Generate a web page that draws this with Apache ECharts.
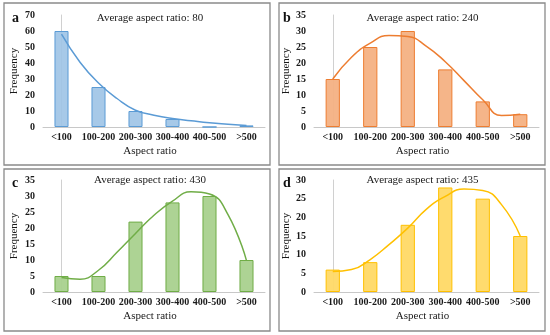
<!DOCTYPE html>
<html>
<head>
<meta charset="utf-8">
<script src="https://cdn.jsdelivr.net/npm/echarts@6/dist/echarts.min.js"></script>
<style>
html,body{margin:0;padding:0;background:#fff;}
#chart{width:550px;height:335px;}
</style>
</head>
<body>
<div id="chart"></div>
<script>
// ---- data ----
const categories = ['<100', '100-200', '200-300', '300-400', '400-500', '>500'];
const freqA = [60, 25, 10, 5, 0, 1];
const freqB = [15, 25, 30, 18, 8, 4];
const freqC = [5, 5, 22, 28, 30, 10];
const freqD = [6, 8, 18, 28, 25, 15];
// trend curves at half-category steps
const curveX = [0, 0.5, 1, 1.5, 2, 2.5, 3, 3.5, 4, 4.5, 5];
const trendA = [58, 40.5, 27.5, 17.8, 10.5, 7.4, 5.3, 3.9, 2.6, 1.7, 0.9];
const trendB = [15, 21.8, 26.2, 28.6, 28.3, 25.2, 20.4, 14.5, 8.5, 3.6, 4];
const trendC = [4.5, 4.0, 6.8, 12.4, 18.3, 24, 28.4, 31.3, 30.6, 24.2, 9.8];
const trendD = [5.5, 6, 8.7, 12.7, 17.1, 22.2, 25.6, 27.6, 27.2, 23.4, 15];
const yMax = [70, 35, 35, 30];
const yStep = [10, 5, 5, 5];
const letters = ['a', 'b', 'c', 'd'];
const averages = ['Average aspect ratio: 80', 'Average aspect ratio: 240', 'Average aspect ratio: 430', 'Average aspect ratio: 435'];

// ---- styles ----
const FONT = 'Liberation Serif';
const TXT = '#1a1a1a';
const panels = [
  { freq: freqA, trend: trendA, fill: 'rgba(157,195,230,0.9)', edge: '#5b9bd5', line: '#5b9bd5',
    box: [4, 3, 266, 162], grid: { left: 43, top: 15, width: 222, height: 112 }, ax: 29, lx: 8 },
  { freq: freqB, trend: trendB, fill: 'rgba(244,177,131,0.95)', edge: '#ed7d31', line: '#ed7d31',
    box: [279, 3, 266, 162], grid: { left: 314, top: 15, width: 225, height: 112 }, ax: 27, lx: 4 },
  { freq: freqC, trend: trendC, fill: 'rgba(169,209,142,0.95)', edge: '#70ad47', line: '#70ad47',
    box: [4, 169, 266, 162], grid: { left: 43, top: 180, width: 222, height: 112 }, ax: 29, lx: 8 },
  { freq: freqD, trend: trendD, fill: 'rgba(255,217,102,0.95)', edge: '#ffc000', line: '#ffc000',
    box: [279, 169, 266, 162], grid: { left: 314, top: 180, width: 225, height: 112 }, ax: 27, lx: 4 }
];

const grid = [], xAxis = [], yAxis = [], series = [], graphic = [];
panels.forEach((p, i) => {
  grid.push(Object.assign({ containLabel: false }, p.grid));
  xAxis.push({
    type: 'category', gridIndex: i, data: categories, boundaryGap: true,
    axisLine: { lineStyle: { color: '#c8c8c8', width: 1 } },
    axisTick: { show: false },
    axisLabel: { fontFamily: FONT, fontWeight: 'bold', fontSize: 10, color: TXT, margin: 5, interval: 0 },
    name: 'Aspect ratio', nameLocation: 'middle', nameGap: 19,
    nameTextStyle: { fontFamily: FONT, fontSize: 11, color: TXT, padding: [0, 8, 0, 0] }
  });
  xAxis.push({ type: 'value', gridIndex: i, min: -0.5, max: 5.5, show: false });
  yAxis.push({
    type: 'value', gridIndex: i, min: 0, max: yMax[i], interval: yStep[i],
    splitLine: { show: false },
    axisLine: { show: true, lineStyle: { color: '#d0d0d0', width: 1 } },
    axisTick: { show: false },
    axisLabel: { fontFamily: FONT, fontWeight: 'bold', fontSize: 10, color: TXT, margin: 8 },
    name: 'Frequency', nameLocation: 'middle', nameGap: p.ax - 6, nameRotate: 90,
    nameTextStyle: { fontFamily: FONT, fontSize: 11, color: TXT }
  });
  series.push({
    type: 'bar', xAxisIndex: 2 * i, yAxisIndex: i, data: p.freq, barWidth: '38%',
    itemStyle: { color: p.fill, borderColor: p.edge, borderWidth: 1 }, z: 2
  });
  series.push({
    type: 'line', xAxisIndex: 2 * i + 1, yAxisIndex: i,
    data: curveX.map((x, k) => [x, p.trend[k]]),
    smooth: 0.5, showSymbol: false, symbol: 'none',
    lineStyle: { color: p.line, width: 1.5 }, z: 3
  });
  graphic.push({
    type: 'rect', shape: { x: p.box[0], y: p.box[1], width: p.box[2], height: p.box[3] },
    style: { fill: 'none', stroke: '#8a8a8a', lineWidth: 1.3 }, silent: true
  });
  graphic.push({
    type: 'text', x: p.box[0] + p.lx, y: p.grid.top + 3,
    style: { text: letters[i], font: 'bold 14px "' + FONT + '"', fill: '#111', verticalAlign: 'middle' }
  });
  const cx = p.grid.left + p.grid.width / 2 - 4;
  graphic.push({
    type: 'text', x: cx, y: p.box[1] + (i < 2 ? 15 : 11),
    style: { text: averages[i], font: '11px "' + FONT + '"', fill: TXT, align: 'center', verticalAlign: 'middle' }
  });
});

const chart = echarts.init(document.getElementById('chart'), null, { renderer: 'canvas' });
chart.setOption({
  backgroundColor: '#ffffff',
  animation: false,
  grid, xAxis, yAxis, series, graphic
});
</script>
</body>
</html>
